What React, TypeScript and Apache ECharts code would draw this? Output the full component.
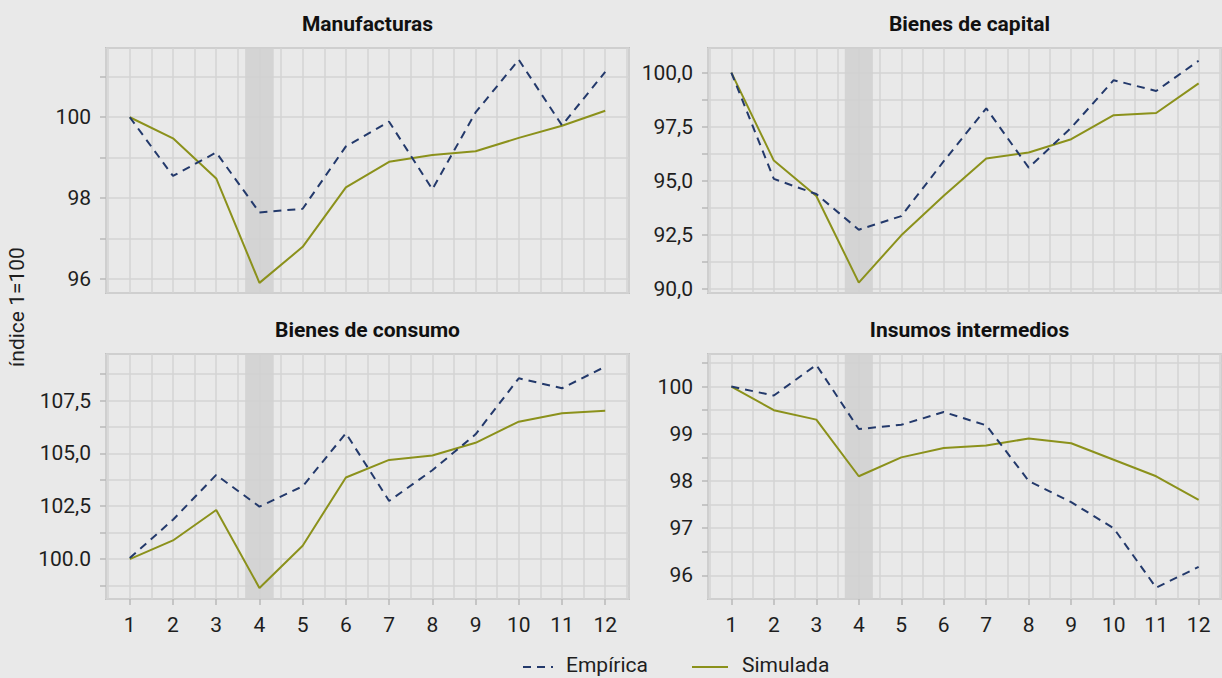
import React, { useEffect, useRef } from "react";
import * as echarts from "echarts";

const periods = [1, 2, 3, 4, 5, 6, 7, 8, 9, 10, 11, 12];

const manufEmpirica = [100, 98.55, 99.13, 97.65, 97.74, 99.28, 99.89, 98.22, 100.12, 101.42, 99.8, 101.12];
const manufSimulada = [100, 99.48, 98.49, 95.91, 96.8, 98.27, 98.9, 99.07, 99.16, 99.49, 99.79, 100.16];
const capitalEmpirica = [100, 95.08, 94.38, 92.73, 93.36, 95.9, 98.35, 95.6, 97.45, 99.65, 99.15, 100.55];
const capitalSimulada = [100, 95.93, 94.29, 90.28, 92.47, 94.3, 96.03, 96.3, 96.92, 98.03, 98.13, 99.5];
const consumoEmpirica = [100.05, 101.86, 103.98, 102.48, 103.44, 105.95, 102.75, 104.2, 105.9, 108.55, 108.08, 109.1];
const consumoSimulada = [100.0, 100.88, 102.32, 98.63, 100.63, 103.86, 104.69, 104.9, 105.5, 106.5, 106.9, 107.01];
const insumosEmpirica = [100, 99.81, 100.46, 99.1, 99.19, 99.46, 99.18, 98.0, 97.55, 97.0, 95.74, 96.18];
const insumosSimulada = [100, 99.5, 99.3, 98.1, 98.5, 98.7, 98.75, 98.9, 98.8, 98.45, 98.1, 97.6];

const manufTickValues = [96, 98, 100];
const manufTickLabels = ["96", "98", "100"];
const capitalTickValues = [90, 92.5, 95, 97.5, 100];
const capitalTickLabels = ["90,0", "92,5", "95,0", "97,5", "100,0"];
const consumoTickValues = [100, 102.5, 105, 107.5];
const consumoTickLabels = ["100.0", "102,5", "105,0", "107,5"];
const insumosTickValues = [96, 97, 98, 99, 100];
const insumosTickLabels = ["96", "97", "98", "99", "100"];
const xTickLabels = periods.map(String);

const seriesNames = ["Empírica", "Simulada"];
const shadedPeriod = [3.67, 4.33];

const EMP_COLOR = "#23396b";
const SIM_COLOR = "#8b911b";
const GRID_COLOR = "#d3d3d3";
const TEXT_COLOR = "#1e1e1e";
const FONT = "Roboto, 'Noto Sans', sans-serif";
const FS = 21;

const panels = [
  { title: "Manufacturas", emp: manufEmpirica, sim: manufSimulada, yMin: 95.66, yMax: 101.71, yStep: 1, tv: manufTickValues, tl: manufTickLabels, left: 106, top: 48, showX: false },
  { title: "Bienes de capital", emp: capitalEmpirica, sim: capitalSimulada, yMin: 89.8, yMax: 101.14, yStep: 1.25, tv: capitalTickValues, tl: capitalTickLabels, left: 708, top: 48, showX: false },
  { title: "Bienes de consumo", emp: consumoEmpirica, sim: consumoSimulada, yMin: 98.11, yMax: 109.7, yStep: 1.25, tv: consumoTickValues, tl: consumoTickLabels, left: 106, top: 354, showX: true },
  { title: "Insumos intermedios", emp: insumosEmpirica, sim: insumosSimulada, yMin: 95.5, yMax: 100.69, yStep: 0.5, tv: insumosTickValues, tl: insumosTickLabels, left: 708, top: 354, showX: true },
];

const PW = 523;
const PH = 245;

function buildOption() {
  const grid: any[] = [];
  const xAxis: any[] = [];
  const yAxis: any[] = [];
  const series: any[] = [];
  const graphic: any[] = [];

  panels.forEach((p, i) => {
    grid.push({ left: p.left, top: p.top, width: PW, height: PH, show: true, borderColor: "#c2c2c2", borderWidth: 2, backgroundColor: "transparent" });
    xAxis.push({
      gridIndex: i, type: "value", min: 0.45, max: 12.55, minInterval: 0.5, maxInterval: 0.5, position: "bottom",
      axisLine: { show: false }, axisTick: { show: false }, axisLabel: { show: false },
      splitLine: { show: true, lineStyle: { color: GRID_COLOR, width: 1.5 } },
    });
    xAxis.push({
      gridIndex: i, type: "value", min: 0.45, max: 12.55, minInterval: 1, maxInterval: 1, position: "bottom",
      axisLine: { show: false },
      axisTick: { show: p.showX, length: 6, customValues: periods, lineStyle: { color: "#b8b8b8", width: 1.5 } },
      axisLabel: {
        show: p.showX, customValues: periods, margin: 15, fontSize: FS, color: TEXT_COLOR, fontFamily: FONT,
        formatter: (v: number) => {
          const k = periods.findIndex((q) => Math.abs(q - v) < 1e-6);
          return k >= 0 ? xTickLabels[k] : "";
        },
      },
      splitLine: { show: false },
    });
    yAxis.push({
      gridIndex: i, type: "value", min: p.yMin, max: p.yMax, minInterval: p.yStep, maxInterval: p.yStep,
      axisLine: { show: false },
      axisTick: { show: true, length: 6, lineStyle: { color: "#b8b8b8", width: 1.5 } },
      axisLabel: {
        margin: 15, fontSize: FS, color: TEXT_COLOR, fontFamily: FONT, showMinLabel: false, showMaxLabel: false,
        formatter: (v: number) => {
          const k = p.tv.findIndex((q) => Math.abs(q - v) < 1e-6);
          return k >= 0 ? p.tl[k] : "";
        },
      },
      splitLine: { show: true, lineStyle: { color: GRID_COLOR, width: 1.5 } },
    });
    series.push({
      name: seriesNames[1], type: "line", xAxisIndex: 2 * i, yAxisIndex: i, z: 3,
      data: periods.map((x, k) => [x, p.sim[k]]), symbol: "none",
      lineStyle: { color: SIM_COLOR, width: 2 }, itemStyle: { color: SIM_COLOR },
      markArea: {
        silent: true, itemStyle: { color: "#d0d0d0", opacity: 0.85 },
        data: [[{ xAxis: shadedPeriod[0] }, { xAxis: shadedPeriod[1] }]],
      },
    });
    series.push({
      name: seriesNames[0], type: "line", xAxisIndex: 2 * i, yAxisIndex: i, z: 4,
      data: periods.map((x, k) => [x, p.emp[k]]), symbol: "none",
      lineStyle: { color: EMP_COLOR, width: 2, type: [8, 6] }, itemStyle: { color: EMP_COLOR },
    });
    graphic.push({
      type: "text", x: p.left + PW / 2, y: p.top - 24,
      style: { text: p.title, fontSize: FS, fontWeight: "bold", fontFamily: FONT, fill: "#111111", align: "center", verticalAlign: "middle", textAlign: "center", textVerticalAlign: "middle" },
    });
  });

  graphic.push({
    type: "text", x: 17, y: 307, rotation: Math.PI / 2,
    style: { text: "índice 1=100", fontSize: FS, fontFamily: FONT, fill: TEXT_COLOR, align: "center", verticalAlign: "middle", textAlign: "center", textVerticalAlign: "middle" },
  });
  graphic.push({ type: "line", shape: { x1: 523, y1: 667, x2: 553, y2: 667 }, style: { stroke: EMP_COLOR, lineWidth: 2, lineDash: [8, 6] } });
  graphic.push({
    type: "text", x: 566, y: 665,
    style: { text: seriesNames[0], fontSize: FS, fontFamily: FONT, fill: TEXT_COLOR, align: "left", verticalAlign: "middle", textAlign: "left", textVerticalAlign: "middle" },
  });
  graphic.push({ type: "line", shape: { x1: 692, y1: 667, x2: 728, y2: 667 }, style: { stroke: SIM_COLOR, lineWidth: 2 } });
  graphic.push({
    type: "text", x: 742, y: 665,
    style: { text: seriesNames[1], fontSize: FS, fontFamily: FONT, fill: TEXT_COLOR, align: "left", verticalAlign: "middle", textAlign: "left", textVerticalAlign: "middle" },
  });

  return { animation: false, backgroundColor: "#e9e9e9", grid, xAxis, yAxis, series, graphic };
}

export default function App() {
  const ref = useRef<HTMLDivElement>(null);
  useEffect(() => {
    if (!ref.current) return;
    const chart = echarts.init(ref.current, undefined, { renderer: "svg" });
    chart.setOption(buildOption() as any);
    return () => chart.dispose();
  }, []);
  return <div ref={ref} style={{ position: "fixed", left: 0, top: 0, width: 1222, height: 678 }} />;
}
